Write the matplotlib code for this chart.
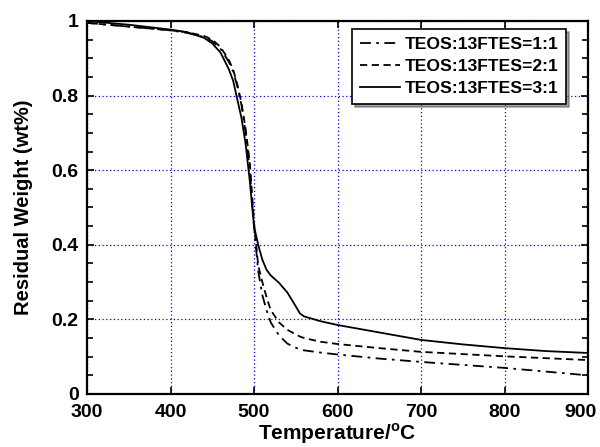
import numpy as np
import matplotlib.pyplot as plt
import matplotlib.transforms as mtransforms
from matplotlib.ticker import MultipleLocator

plt.rcParams['font.family'] = ['Liberation Sans', 'DejaVu Sans']
plt.rcParams['font.weight'] = 'bold'

## temperature grid (C)
temp = [300, 350, 400, 420, 440, 450, 460, 470, 475, 480, 485, 490, 495, 500,
        505, 510, 515, 520, 530, 540, 550, 555, 560, 580, 600, 650, 700, 750,
        800, 850, 900]

## residual weight for each ratio
w_11 = [0.995, 0.985, 0.975, 0.968, 0.957, 0.946, 0.925, 0.89, 0.865, 0.825,
        0.775, 0.70, 0.60, 0.45, 0.33, 0.265, 0.225, 0.192, 0.157, 0.135, 0.124,
        0.12, 0.117, 0.111, 0.106, 0.095, 0.086, 0.078, 0.07, 0.06, 0.05]
w_21 = [0.995, 0.985, 0.975, 0.970, 0.960, 0.950, 0.930, 0.895, 0.87, 0.83,
        0.78, 0.71, 0.62, 0.46, 0.345, 0.30, 0.26, 0.225, 0.192, 0.172, 0.16,
        0.154, 0.15, 0.14, 0.134, 0.123, 0.113, 0.107, 0.101, 0.096, 0.091]
w_31 = [1.0, 0.99, 0.977, 0.97, 0.955, 0.94, 0.915, 0.87, 0.84, 0.79, 0.74,
        0.67, 0.57, 0.45, 0.40, 0.36, 0.333, 0.318, 0.298, 0.272, 0.235, 0.216,
        0.208, 0.195, 0.185, 0.165, 0.145, 0.133, 0.123, 0.115, 0.11]

labels = ["TEOS:13FTES=1:1", "TEOS:13FTES=2:1", "TEOS:13FTES=3:1"]
xticks = [300, 400, 500, 600, 700, 800, 900]

fig = plt.figure(figsize=(6, 4.47), dpi=100)
ax = fig.add_axes([87/600, 1-394/447, (588-87)/600, (394-21)/447])

ax.plot(temp, w_11, color="black", lw=1.3, linestyle=(0, (6, 3, 1.5, 3)), label=labels[0])
ax.plot(temp, w_21, color="black", lw=1.3, linestyle=(0, (4, 2.5)), label=labels[1])
ax.plot(temp, w_31, color="black", lw=1.3, linestyle="-", label=labels[2])

ax.set_xlim(300, 900)
ax.set_ylim(0, 1)
ax.set_xticks(xticks, [str(t) for t in xticks])
ax.yaxis.set_minor_locator(MultipleLocator(0.05))
ax.set_yticks([0, 0.2, 0.4, 0.6, 0.8, 1.0], ["0", "0.2", "0.4", "0.6", "0.8", "1"])
ax.tick_params(which="both", direction="in", top=True, right=True, labelsize=14, width=1.2)
ax.tick_params(which="major", length=5)
ax.tick_params(which="minor", length=4)
ax.tick_params(axis="x", pad=7)
ax.tick_params(axis="y", pad=6)

ax.grid(True, which="major", color="blue", linestyle=(0, (1, 2)), lw=0.9)
for s in ax.spines.values():
    s.set_linewidth(1.6)

ax.set_xlabel("Temperature/$^{\\mathregular{o}}$C", fontsize=15, fontweight="bold", labelpad=0.5)
ax.set_ylabel("Residual Weight (wt%)", fontsize=14.5, fontweight="bold", labelpad=13)

# nudge the last x label so it stays inside the figure
last = ax.xaxis.get_major_ticks()[-1].label1
last.set_transform(last.get_transform() + mtransforms.ScaledTranslation(-8/100, 0, fig.dpi_scale_trans))

leg = ax.legend(loc="upper right", bbox_to_anchor=(0.956, 0.979), fontsize=12.6,
                frameon=True, fancybox=False, shadow=True, handlelength=2.3,
                handletextpad=0.25, borderpad=0.45, labelspacing=0.4, borderaxespad=0)
leg.get_frame().set_edgecolor("black")
leg.get_frame().set_linewidth(1.2)

plt.savefig("out.png", dpi=100)
plt.close()
